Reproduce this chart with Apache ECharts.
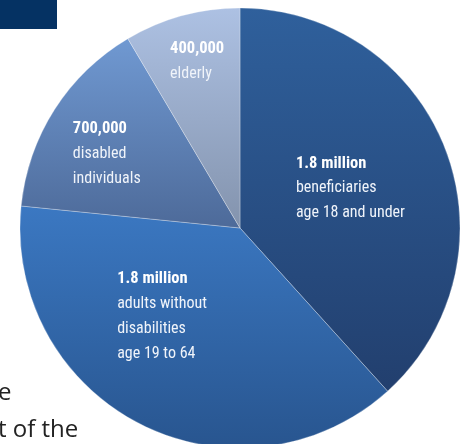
<!DOCTYPE html>
<html>
<head>
<meta charset="utf-8">
<script src="https://cdn.jsdelivr.net/npm/echarts@6/dist/echarts.min.js"></script>
<style>
html,body{margin:0;padding:0;background:#fff;}
#c{width:463px;height:444px;}
</style>
</head>
<body>
<div id="c"></div>
<script>
// Data
const categories = ['beneficiaries\nage 18 and under', 'adults without\ndisabilities\nage 19 to 64', 'disabled\nindividuals', 'elderly'];
const valueLabels = ['1.8 million', '1.8 million', '700,000', '400,000'];
const values = [1.8, 1.8, 0.7, 0.4];

// Styles
const gradients = [
  ['#2f609c', '#223f6e'],
  ['#3b78c2', '#28558f'],
  ['#7099d2', '#4d6a99'],
  ['#adc1e3', '#8393ad']
];
const labelOffsets = [[5, 1], [-27, -12], [-38, -13], [-13, -58]];

const chart = echarts.init(document.getElementById('c'));
const FONT = "'Liberation Sans Narrow', 'Roboto Condensed', 'Liberation Sans', sans-serif";

chart.setOption({
  animation: false,
  graphic: [
    { type: 'rect', shape: { x: 0, y: 0, width: 57, height: 29 }, style: { fill: '#053263' } },
    { type: 'text', left: -2, top: 381, style: { text: 'e', font: '24px "Open Sans", sans-serif', fill: '#222' } },
    { type: 'text', left: -2, top: 418, style: { text: 't of the', font: '24px "Open Sans", sans-serif', fill: '#222' } }
  ],
  series: [{
    type: 'pie',
    center: [240, 228],
    radius: [0, 220],
    startAngle: 90,
    clockwise: true,
    silent: true,
    z: 1,
    itemStyle: { borderColor: 'rgba(255,255,255,0.35)', borderWidth: 0.8 },
    label: {
      show: true,
      position: 'inside',
      color: '#fff',
      fontFamily: FONT,
      formatter: p => '{b|' + valueLabels[p.dataIndex] + '}\n' + p.name.split('\n').map(s => '{r|' + s + '}').join('\n'),
      rich: {
        b: { fontFamily: FONT, fontWeight: 'bold', fontSize: 16.5, color: '#fff', lineHeight: 25, align: 'left' },
        r: { fontFamily: FONT, fontSize: 16, color: '#f0f4fa', lineHeight: 25, align: 'left' }
      }
    },
    labelLine: { show: false },
    data: values.map((v, i) => ({
      value: v,
      name: categories[i],
      itemStyle: {
        color: new echarts.graphic.LinearGradient(0, 0, 0, 1, [
          { offset: 0, color: gradients[i][0] },
          { offset: 1, color: gradients[i][1] }
        ])
      },
      label: { offset: labelOffsets[i] }
    }))
  }]
});
</script>
</body>
</html>
